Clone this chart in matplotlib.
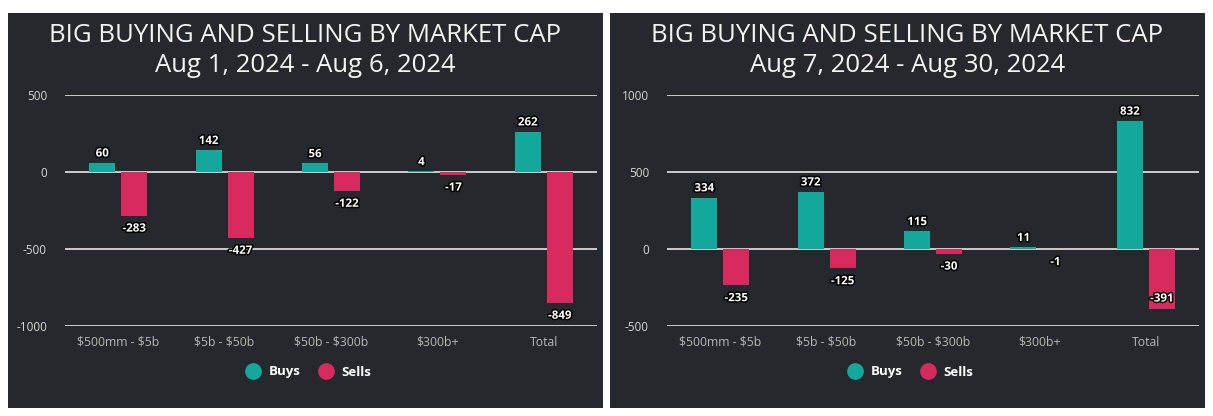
import matplotlib
matplotlib.use("Agg")
import matplotlib.pyplot as plt
import matplotlib.patheffects as pe
from matplotlib.patches import Rectangle
from matplotlib.lines import Line2D
import numpy as np

plt.rcParams["text.parse_math"] = False

categories = ["$500mm - $5b", "$5b - $50b", "$50b - $300b", "$300b+", "Total"]
titles = ["BIG BUYING AND SELLING BY MARKET CAP\nAug 1, 2024 - Aug 6, 2024",
          "BIG BUYING AND SELLING BY MARKET CAP\nAug 7, 2024 - Aug 30, 2024"]
buys_left = [60, 142, 56, 4, 262]
sells_left = [-283, -427, -122, -17, -849]
buys_right = [334, 372, 115, 11, 832]
sells_right = [-235, -125, -30, -1, -391]
yticks_left = [500, 0, -500, -1000]
yticks_right = [1000, 500, 0, -500]

BG = "#25292d"
TEAL = "#13a89b"
PINK = "#d72b60"
GRID = "#d9d9d9"
FONT = ["Open Sans", "DejaVu Sans"]
TFONT = ["Open Sans", "DejaVu Sans"]

W, H = 1213, 416
fig = plt.figure(figsize=(W / 100, H / 100), dpi=100)
fig.patch.set_facecolor("white")

panels = [(8, 13, 595, 395), (610, 13, 595, 395)]
datasets = [(buys_left, sells_left, yticks_left), (buys_right, sells_right, yticks_right)]

for (px, py, pw, ph), title, (buys, sells, yt) in zip(panels, titles, datasets):
    fig.add_artist(Rectangle((px / W, 1 - (py + ph) / H), pw / W, ph / H,
                             transform=fig.transFigure, facecolor=BG, edgecolor="none", zorder=0))
    cx = (px + pw / 2) / W
    fig.text(cx, 1 - 36 / H, title.split("\n")[0], ha="center", va="center",
             color="#f4f4f4", fontsize=18.5, family=TFONT, fontweight="normal")
    fig.text(cx, 1 - 65 / H, title.split("\n")[1], ha="center", va="center",
             color="#f4f4f4", fontsize=18.5, family=TFONT, fontweight="normal")

    ax_left = px + 57
    ax = fig.add_axes([ax_left / W, 1 - 326 / H, 532 / W, 231 / H])
    ax.set_facecolor("none")
    ymax, ymin = max(yt), min(yt)
    ax.set_ylim(ymin, ymax)
    ax.set_xlim(-0.5, len(categories) - 0.5)
    x = np.arange(len(categories))
    bw, off = 0.245, 0.15
    ax.bar(x - off, buys, bw, color=TEAL, zorder=3)
    ax.bar(x + off, sells, bw, color=PINK, zorder=3)
    ax.set_yticks(yt)
    ax.set_yticklabels([str(v) for v in yt], family=FONT)
    ax.grid(axis="y", color=GRID, linewidth=1.3, zorder=1)
    ax.set_xticks(x)
    ax.set_xticklabels(categories, family=FONT)
    ax.tick_params(axis="y", length=0, pad=13, labelsize=8.5, labelcolor="#d8d8d8")
    ax.tick_params(axis="x", length=0, pad=7, labelsize=8.8, labelcolor="#b8b8b8")
    for s in ax.spines.values():
        s.set_visible(False)

    stroke = [pe.withStroke(linewidth=2.2, foreground="black")]
    span = ymax - ymin
    for xi, v in zip(x, buys):
        ax.annotate(str(v), (xi - off, v), xytext=(0, 7), textcoords="offset points",
                    ha="center", va="center", color="white", fontsize=8.3, fontweight="bold",
                    family=FONT, path_effects=stroke, zorder=5)
    for xi, v in zip(x, sells):
        inside = (v - ymin) < 0.09 * span
        dy = 8 if inside else -9
        ax.annotate(str(v), (xi + off, v), xytext=(0, dy), textcoords="offset points",
                    ha="center", va="center", color="white", fontsize=8.3, fontweight="bold",
                    family=FONT, path_effects=stroke, zorder=5)

    handles = [Line2D([], [], marker="o", linestyle="none", markersize=11,
                      markerfacecolor=TEAL, markeredgecolor=TEAL, label="Buys"),
               Line2D([], [], marker="o", linestyle="none", markersize=11,
                      markerfacecolor=PINK, markeredgecolor=PINK, label="Sells")]
    leg = fig.legend(handles=handles, loc="center", bbox_to_anchor=(cx, 1 - 372 / H),
                     ncol=2, frameon=False, handletextpad=0.2, columnspacing=0.9,
                     prop={"family": FONT, "weight": "bold", "size": 9.5})
    for t in leg.get_texts():
        t.set_color("white")

fig.savefig("out.png", dpi=100, facecolor="white")
